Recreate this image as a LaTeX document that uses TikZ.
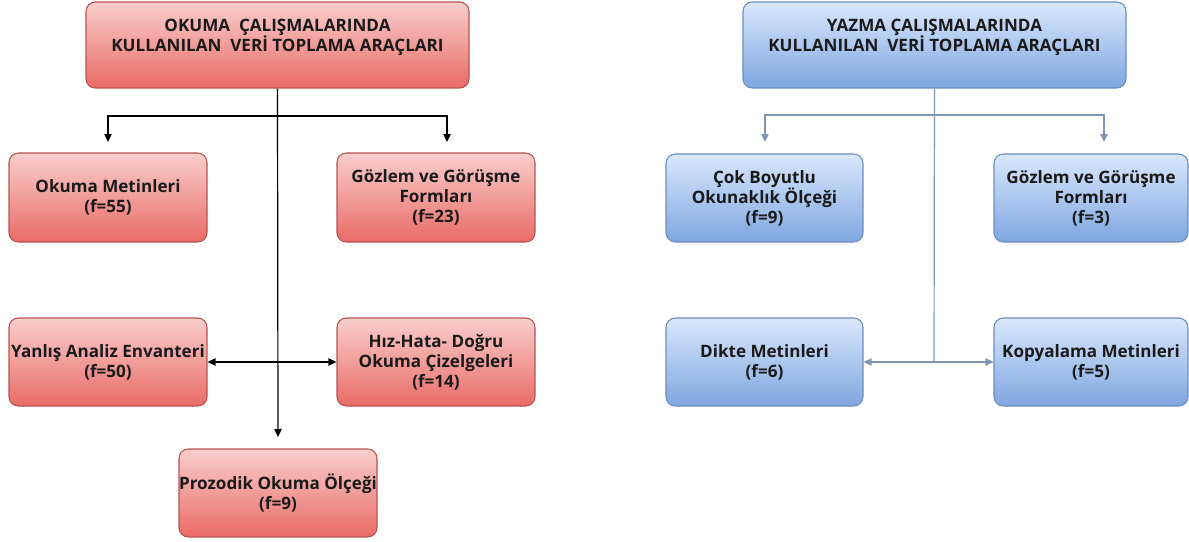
\documentclass[tikz,border=0pt]{standalone}
\usepackage{fontspec}
\setmainfont{Open Sans}
\usetikzlibrary{arrows.meta}
\definecolor{redtop}{HTML}{F8CECC}
\definecolor{redbot}{HTML}{EA6B66}
\definecolor{redline}{HTML}{B85450}
\definecolor{bluetop}{HTML}{DAE8FC}
\definecolor{bluebot}{HTML}{7EA6E0}
\definecolor{blueline}{HTML}{6C8EBF}
\definecolor{conblue}{HTML}{7F96B2}
\definecolor{txt}{HTML}{1A1A1A}
\begin{document}
\begin{tikzpicture}[x=0.75pt,y=-0.75pt,
  sz/.style 2 args={minimum width=#1*0.75pt, minimum height=#2*0.75pt},
  txtstyle/.style={align=center, text=txt, font=\bfseries\fontsize{12.8}{15}\selectfont},
  box/.style={rounded corners=7pt, inner sep=0pt, txtstyle, line width=0.8pt},
  redbox/.style={box, draw=redline, top color=redtop, bottom color=redbot},
  bluebox/.style={box, draw=blueline, top color=bluetop, bottom color=bluebot},
  titletext/.style={label={[txtstyle, yshift=6pt]center:#1}},
  blk/.style={draw=black, line width=0.9pt},
  blu/.style={draw=conblue, line width=0.9pt},
  tip/.style={-{Triangle[length=6pt,width=5.5pt]}},
]
\useasboundingbox (0,0) rectangle (1189,542);

% ---- left (reading)
\node[redbox, sz={383}{86}, titletext={OKUMA\ \ ÇALIŞMALARINDA\\KULLANILAN\ \ VERİ TOPLAMA ARAÇLARI}] (lt) at (277.5,45) {};
\node[redbox, sz={198}{89}] (lo) at (108,197.5) {Okuma Metinleri\\(f=55)};
\node[redbox, sz={198}{89}] (lg) at (436,197.5) {Gözlem ve Görüşme\\Formları\\(f=23)};
\node[redbox, sz={198}{88}] (ly) at (108,362) {Yanlış Analiz Envanteri\\(f=50)};
\node[redbox, sz={198}{88}] (lh) at (436,362) {Hız-Hata- Doğru\\Okuma Çizelgeleri\\(f=14)};
\node[redbox, sz={198}{88}] (lp) at (278,493) {Prozodik Okuma Ölçeği\\(f=9)};

\coordinate (lj) at (278,116);
\coordinate (lal) at (108,142);
\coordinate (lar) at (447,142);
\coordinate (lm) at (278,362);
\coordinate (lpa) at (278,437);

\draw[blk,tip] (lt.south) -- (lpa);
\draw[blk,tip] (lj) -| (lal);
\draw[blk,tip] (lj) -| (lar);
\draw[blk,tip] (lm) -- (ly.east);
\draw[blk,tip] (lm) -- (lh.west);

% ---- right (writing)
\node[bluebox, sz={383}{86}, titletext={YAZMA ÇALIŞMALARINDA\\KULLANILAN\ \ VERİ TOPLAMA ARAÇLARI}] (rt) at (934.5,45) {};
\node[bluebox, sz={197}{88}] (rc) at (764.5,198) {Çok Boyutlu\\Okunaklık Ölçeği\\(f=9)};
\node[bluebox, sz={194}{88}] (rg) at (1091,198) {Gözlem ve Görüşme\\Formları\\(f=3)};
\node[bluebox, sz={197}{88}] (rd) at (764.5,362) {Dikte Metinleri\\(f=6)};
\node[bluebox, sz={194}{88}] (rk) at (1091,362) {Kopyalama Metinleri\\(f=5)};

\coordinate (rj) at (934,115);
\coordinate (ral) at (765,142);
\coordinate (rar) at (1104,142);
\coordinate (rm) at (934,362);

\draw[blu] (rt.south) -- (rm);
\draw[blu,tip] (rj) -| (ral);
\draw[blu,tip] (rj) -| (rar);
\draw[blu,tip] (rm) -- (rd.east);
\draw[blu,tip] (rm) -- (rk.west);
\end{tikzpicture}
\end{document}
